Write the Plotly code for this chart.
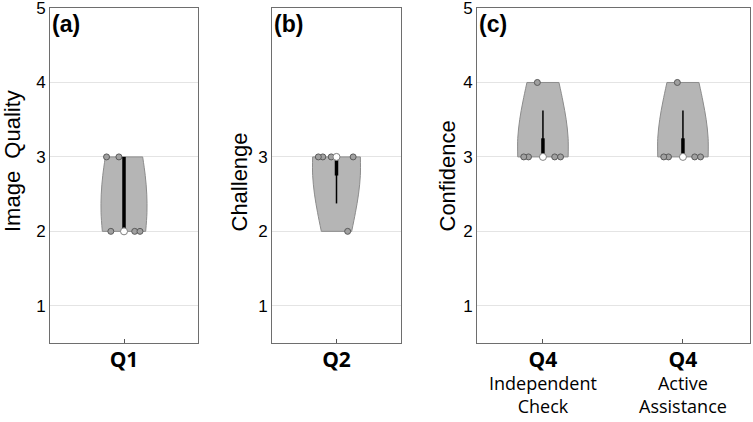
import numpy as np
import plotly.graph_objects as go

# ratings per question (5 participants each)
q1_image_quality = [2, 2, 2, 3, 3]
q2_challenge = [2, 3, 3, 3, 3]
q4_independent = [3, 3, 3, 3, 4]
q4_active = [3, 3, 3, 3, 4]

panel_labels = ["(a)", "(b)", "(c)"]
y_titles = ["Image  Quality", "Challenge", "Confidence"]
x_ticks_a = ["Q1"]
x_ticks_b = ["Q2"]
x_ticks_c = ["Q4<br>Independent<br>Check", "Q4<br>Active<br>Assistance"]

VIOLIN_FILL = "#b5b5b5"
VIOLIN_LINE = "#8c8c8c"


def tick_html(t):
    # first line is the bold question id, slightly larger
    lines = t.split("<br>")
    lines[0] = "<span style='font-size:21px'><b>" + lines[0] + "</b></span>"
    return "<br>".join(lines)


fig = go.Figure()

panels = [
    # data list, x positions, axis suffix, violin width
    ([q1_image_quality], [0], "", 0.31),
    ([q2_challenge], [0], "2", 0.37),
    ([q4_independent, q4_active], [0, 1], "3", 0.36),
]

for groups, xpos, ax, w in panels:
    xa = "x" + ax
    ya = "y" + ax
    for data, x0 in zip(groups, xpos):
        data = np.array(data, dtype=float)
        fig.add_trace(go.Violin(
            x=[x0] * len(data), y=data, xaxis=xa, yaxis=ya,
            spanmode="hard", bandwidth=0.8, scalemode="width", width=w,
            fillcolor=VIOLIN_FILL, line=dict(color=VIOLIN_LINE, width=1),
            opacity=1, points="all", jitter=0.9, pointpos=0,
            marker=dict(size=6, color="#a0a0a0", line=dict(color="#5a5a5a", width=1)),
            box_visible=False, meanline_visible=False, showlegend=False,
            hoverinfo="skip",
        ))
        q1, med, q3 = np.percentile(data, [25, 50, 75], method="hazen")
        iqr = q3 - q1
        lo = max(q1 - 1.5 * iqr, data.min())
        hi = min(q3 + 1.5 * iqr, data.max())
        # whisker
        fig.add_trace(go.Scatter(x=[x0, x0], y=[lo, hi], xaxis=xa, yaxis=ya,
                                 mode="lines", line=dict(color="black", width=1.5),
                                 showlegend=False, hoverinfo="skip"))
        # box
        fig.add_trace(go.Scatter(x=[x0, x0], y=[q1, q3], xaxis=xa, yaxis=ya,
                                 mode="lines", line=dict(color="black", width=3.5),
                                 showlegend=False, hoverinfo="skip"))
        # median
        fig.add_trace(go.Scatter(x=[x0], y=[med], xaxis=xa, yaxis=ya,
                                 mode="markers",
                                 marker=dict(size=7, color="white", line=dict(color="#808080", width=1)),
                                 showlegend=False, hoverinfo="skip"))

H = 422
W = 753
ytop = 1 - 8 / H
ybot = 1 - 343 / H
xdoms = [(50 / W, 198 / W), (272 / W, 401 / W), (477 / W, 750 / W)]
xranges = [[-0.5, 0.5], [-0.5, 0.5], [-0.471, 1.479]]
xtexts = [x_ticks_a, x_ticks_b, x_ticks_c]
yticks = [[1, 2, 3, 4, 5], [1, 2, 3], [1, 2, 3, 4, 5]]
title_x = [13, 239, 447]

axis_line = dict(showline=True, linecolor="#6e6e6e", linewidth=1, mirror=True,
                 zeroline=False, automargin=False, fixedrange=True,
                 ticklabeloverflow="allow")
layout = dict(
    width=W, height=H, margin=dict(l=0, r=0, t=0, b=0, pad=0),
    plot_bgcolor="white", paper_bgcolor="white",
    violingap=0, violinmode="overlay",
)
for i in range(3):
    suf = "" if i == 0 else str(i + 1)
    layout["xaxis" + suf] = dict(
        domain=list(xdoms[i]), range=xranges[i], anchor="y" + suf,
        tickmode="array", tickvals=list(range(len(xtexts[i]))),
        ticktext=[tick_html(t) for t in xtexts[i]],
        ticks="inside", ticklen=4, tickcolor="#555555", showgrid=False,
        tickfont=dict(family="Open Sans", size=18, color="black"),
        ticklabelstandoff=1, **axis_line,
    )
    layout["yaxis" + suf] = dict(
        domain=[ybot, ytop], range=[0.5, 5.0005], anchor="x" + suf,
        tickmode="array", tickvals=yticks[i], ticks="",
        showgrid=True, gridcolor="#e4e4e4", gridwidth=1,
        tickfont=dict(family="Liberation Sans", size=17, color="black"),
        **axis_line,
    )
fig.update_layout(**layout)

for i, lab in enumerate(panel_labels):
    fig.add_annotation(text="<b>" + lab + "</b>", x=xdoms[i][0], y=1 - 9 / H,
                       xref="paper", yref="paper", xanchor="left", yanchor="top",
                       showarrow=False, font=dict(family="Liberation Sans", size=23, color="black"))
    fig.add_annotation(text=y_titles[i], textangle=-90, x=title_x[i] / W, y=1 - 234 / H,
                       xref="paper", yref="paper", xanchor="center", yanchor="bottom",
                       showarrow=False, font=dict(family="Liberation Sans", size=22, color="black"))

# the page body has a default 8px margin; drop it so the figure fills the window
fig.write_html("out.html", config={"displayModeBar": False},
               post_script="document.body.style.margin='0';")
